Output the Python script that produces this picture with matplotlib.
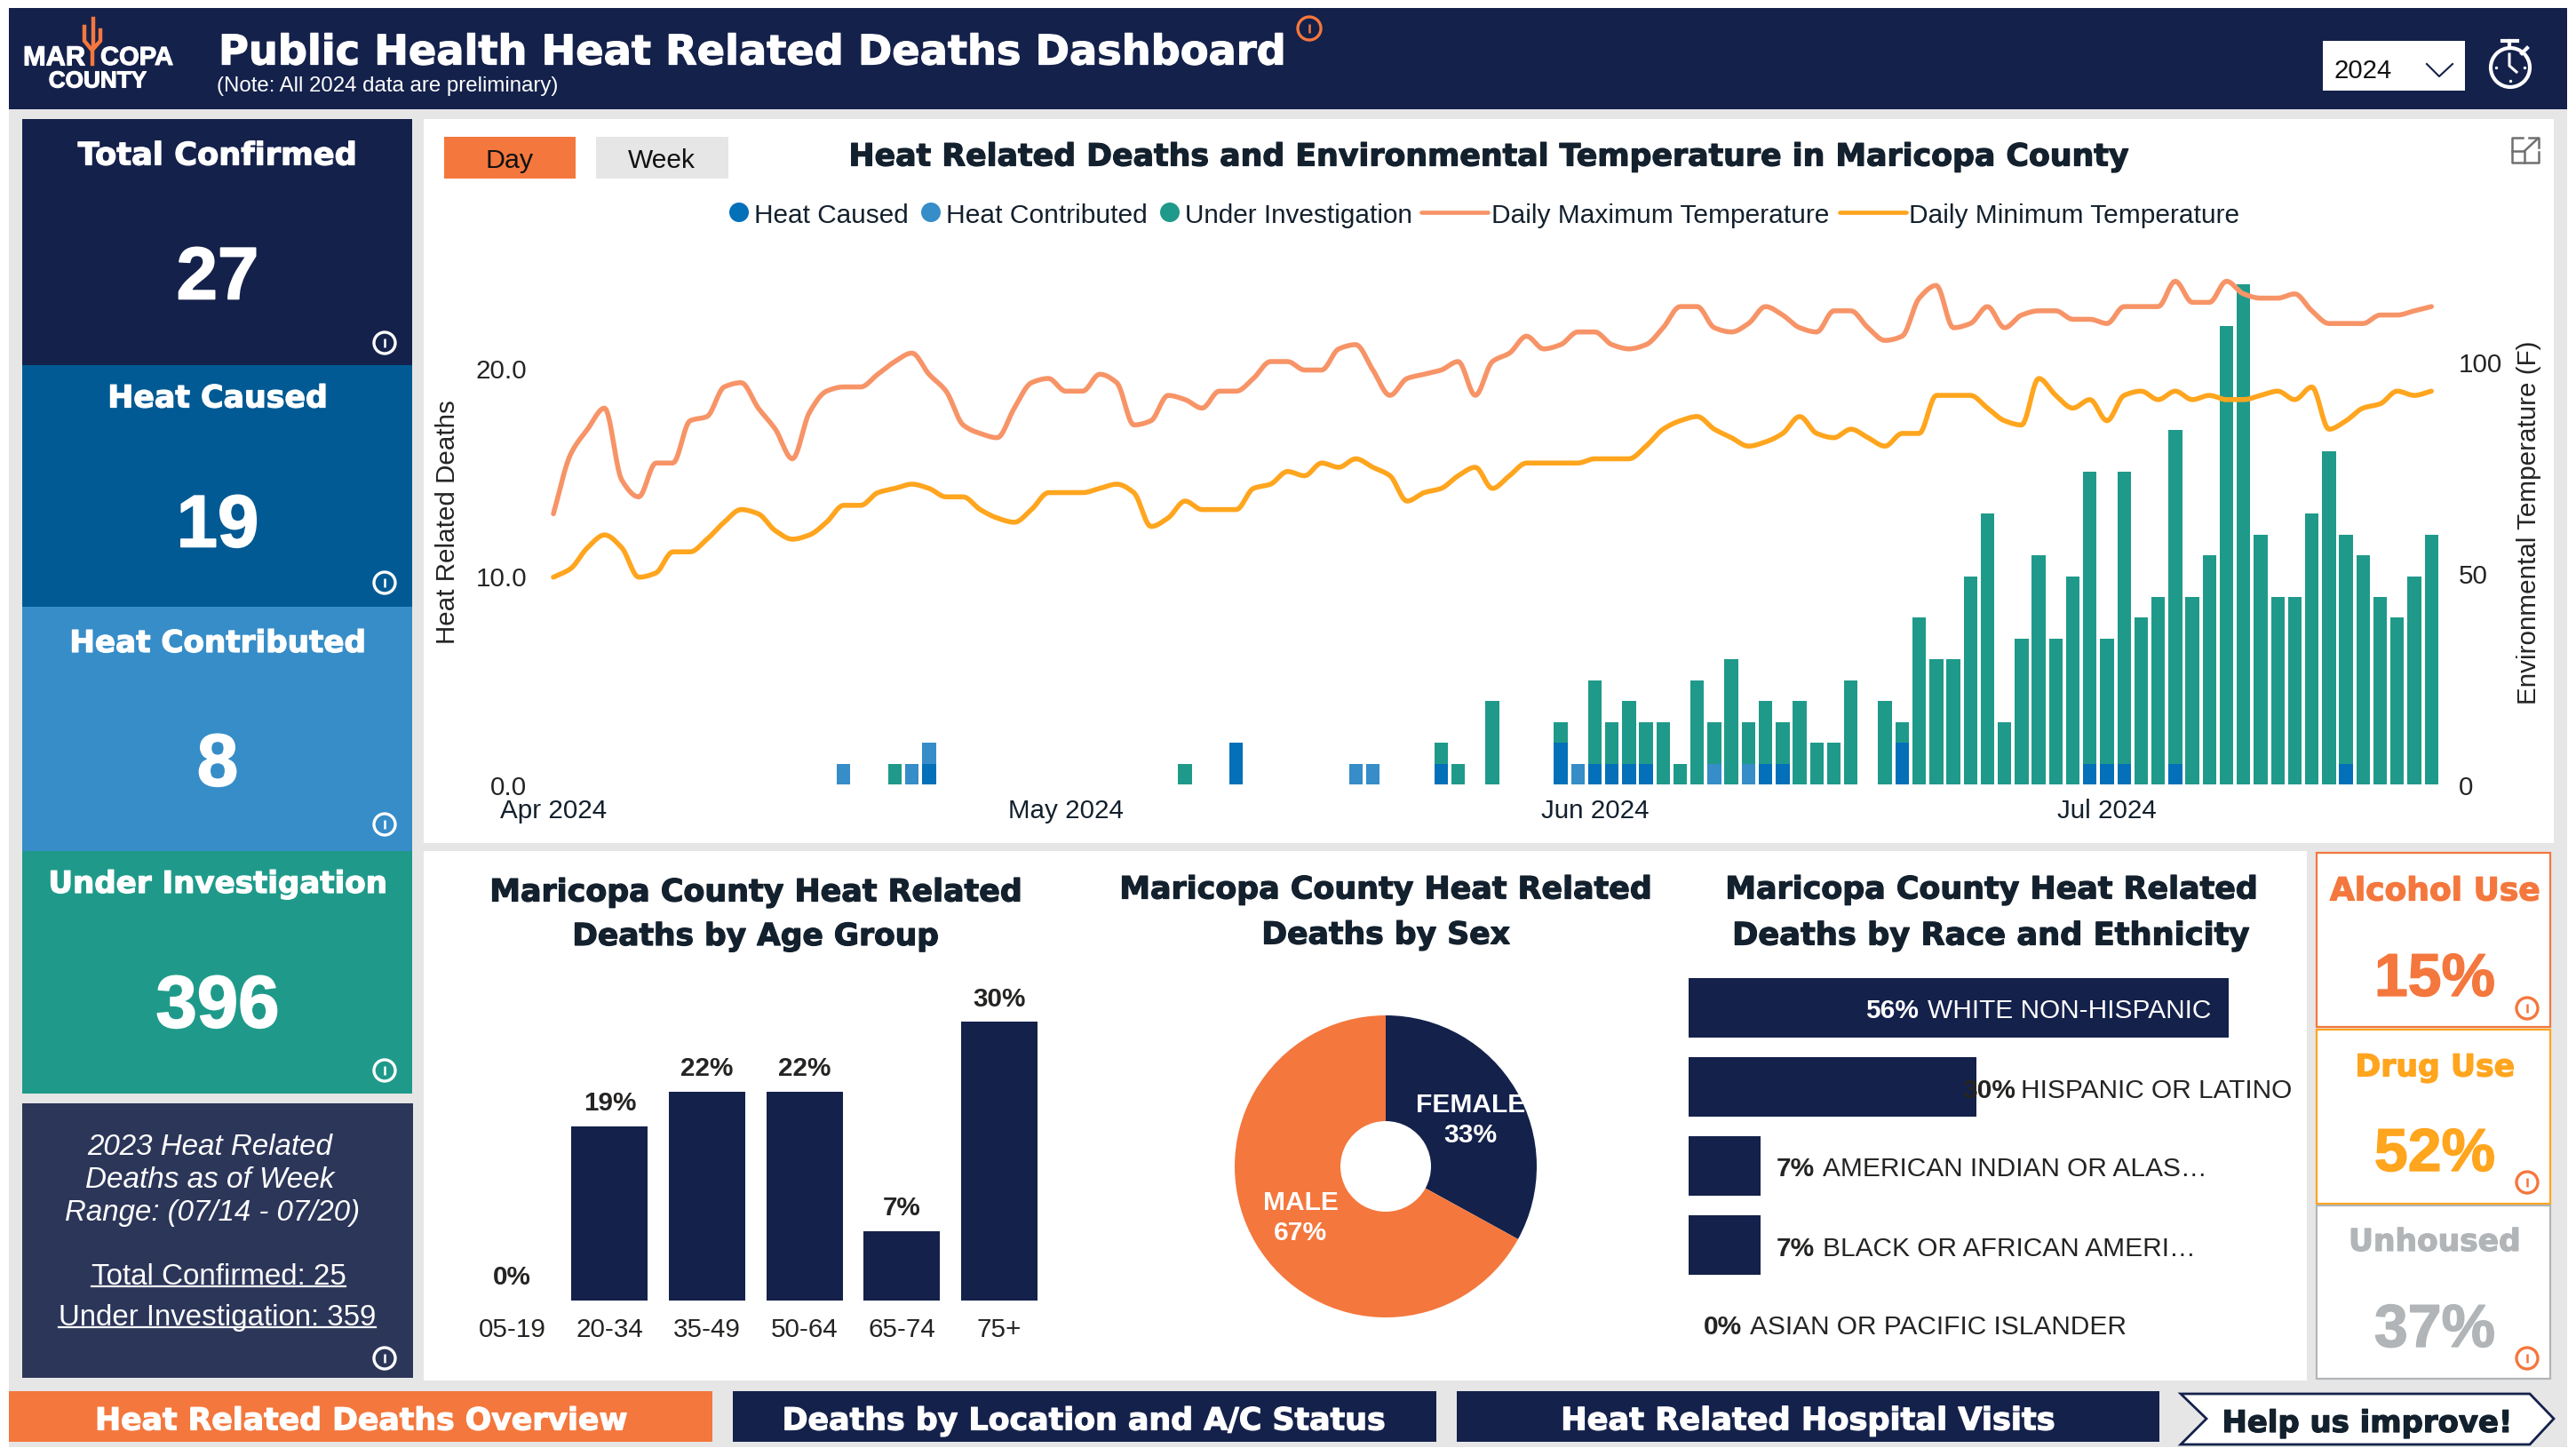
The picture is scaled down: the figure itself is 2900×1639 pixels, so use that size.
import numpy as np
import matplotlib
matplotlib.use('agg')
import matplotlib.pyplot as plt
import matplotlib.patheffects as pe
from matplotlib.patches import Rectangle, Circle, Polygon

# daily counts, Apr 1 - Jul 20 2024 (111 days)
heat_caused = [0,0,0,0,0,0,0,0,0,0,
               0,0,0,0,0,0,0,0,0,0,
               0,0,1,0,0,0,0,0,0,0,
               0,0,0,0,0,0,0,0,0,0,
               2,0,0,0,0,0,0,0,0,0,
               0,0,1,0,0,0,0,0,0,2,
               0,1,1,1,1,0,0,0,0,0,
               0,1,1,0,0,0,0,0,0,2,
               0,0,0,0,0,0,0,0,0,0,
               1,1,1,0,0,1,0,0,0,0,
               0,0,0,0,0,1,0,0,0,0,0]
heat_contributed = [0,0,0,0,0,0,0,0,0,0,
                    0,0,0,0,0,0,0,1,0,0,
                    0,1,1,0,0,0,0,0,0,0,
                    0,0,0,0,0,0,0,0,0,0,
                    0,0,0,0,0,0,0,1,1,0,
                    0,0,0,0,0,0,0,0,0,0,
                    1,0,0,0,0,0,0,0,1,0,
                    1,0,0,0,0,0,0,0,0,0,
                    0,0,0,0,0,0,0,0,0,0,
                    0,0,0,0,0,0,0,0,0,0,
                    0,0,0,0,0,0,0,0,0,0,0]
under_investigation = [0,0,0,0,0,0,0,0,0,0,
                       0,0,0,0,0,0,0,0,0,0,
                       1,0,0,0,0,0,0,0,0,0,
                       0,0,0,0,0,0,0,1,0,0,
                       0,0,0,0,0,0,0,0,0,0,
                       0,0,1,1,0,4,0,0,0,1,
                       0,4,2,3,2,3,1,5,2,6,
                       2,3,2,4,2,2,5,0,4,1,
                       8,6,6,10,13,3,7,11,7,10,
                       14,6,14,8,9,16,9,11,22,24,
                       12,9,9,13,16,11,11,9,8,10,12]
temp_max = [64,78,84,89,72,68,76,76,86,87,
            94,95,89,84,77,88,93,94,94,97,
            100,102,97,93,85,83,82,89,95,96,
            93,93,97,95,85,86,92,91,89,93,
            93,96,100,100,98,98,103,104,98,92,
            96,97,98,100,92,100,102,106,103,104,
            107,107,104,103,104,108,113,113,108,107,
            109,113,111,108,107,112,112,108,105,106,
            115,118,108,109,113,108,111,112,112,110,
            110,109,113,113,113,119,114,114,119,116,
            115,115,116,112,109,109,109,111,111,112,113]
temp_min = [49,51,56,59,56,49,50,55,55,58,
            62,65,64,60,58,59,62,66,66,69,
            70,71,70,68,68,65,63,62,65,69,
            69,69,70,71,69,61,63,67,65,65,
            65,70,71,74,73,76,75,77,75,73,
            67,69,70,73,75,70,73,76,76,76,
            76,77,77,77,80,84,86,87,84,82,
            80,81,83,87,83,82,84,82,80,83,
            83,92,92,92,89,86,85,96,92,89,
            91,86,92,93,91,93,91,92,91,91,
            92,93,91,94,84,86,89,90,93,92,93]
month_days = [0, 30, 61, 91]
month_labels = ['Apr 2024', 'May 2024', 'Jun 2024', 'Jul 2024']

age_groups = ['05-19', '20-34', '35-49', '50-64', '65-74', '75+']
age_counts = [0, 5, 6, 6, 2, 8]
age_pct = ['0%', '19%', '22%', '22%', '7%', '30%']

sex_labels = ['FEMALE', 'MALE']
sex_pct = [33, 67]

race_names = ['WHITE NON-HISPANIC', 'HISPANIC OR LATINO', 'AMERICAN INDIAN OR ALAS…',
              'BLACK OR AFRICAN AMERI…', 'ASIAN OR PACIFIC ISLANDER']
race_counts = [15, 8, 2, 2, 0]
race_pct = ['56%', '30%', '7%', '7%', '0%']

NAVY = '#14214B'
ORANGE = '#F4773D'
AMBER = '#FFA51E'
GREY = '#E6E6E6'
INK = '#252423'
TITLE = '#13202D'
C_CAUSED = '#0370B9'
C_CONTRIB = '#368DC8'
C_UI = '#1F9A8A'
C_MAX = '#F79467'
C_MIN = '#FFA51E'

W, H = 2900, 1640
plt.rcParams['font.family'] = ['Liberation Sans', 'DejaVu Sans']
fig = plt.figure(figsize=(W / 100, H / 100), dpi=100, facecolor='white')
bg = fig.add_axes([0, 0, 1, 1])
bg.set_xlim(0, W)
bg.set_ylim(H, 0)
bg.axis('off')
renderer = fig.canvas.get_renderer()


def box(x0, y0, x1, y1, color, edge=None, lw=0):
    bg.add_patch(Rectangle((x0, y0), x1 - x0, y1 - y0, facecolor=color, edgecolor=edge or 'none', linewidth=lw))


def put(x, y, s, width=None, size=21.3, color=INK, ha='center', weight='normal', style='normal', heavy=0):
    t = bg.text(x, y, s, fontsize=size, color=color, ha=ha, va='center_baseline', fontweight=weight, fontstyle=style)
    if width:
        t.set_fontsize(size * width / t.get_window_extent(renderer).width)
    if heavy:
        t.set_path_effects([pe.withStroke(linewidth=heavy, foreground=color)])
    return t


def head(x, y, s, width, color=TITLE, ha='center'):
    # wide heavy headings, DejaVu bold is the closest in proportions
    t = put(x, y, s, width=width, size=24, color=color, ha=ha, weight='bold')
    t.set_fontfamily('DejaVu Sans')
    t.set_fontsize(24)
    t.set_fontsize(24 * width / t.get_window_extent(renderer).width)
    t.set_path_effects([pe.withStroke(linewidth=0.9, foreground=color)])
    return t


def info(x, y, color='white', r=12):
    bg.add_patch(Circle((x, y), r, facecolor='none', edgecolor=color, linewidth=2.4))
    bg.plot([x, x], [y - 5, y + 5], color=color, lw=1.8, solid_capstyle='butt')


def to_ax(x0, y0, x1, y1):
    return fig.add_axes([x0 / W, 1 - y1 / H, (x1 - x0) / W, (y1 - y0) / H], facecolor='none')


def smooth(y, n=10):
    # monotone cubic through the daily readings, only for the curved look of the line
    y = np.asarray(y, float)
    d = np.diff(y)
    m = np.zeros(len(y))
    m[0], m[-1] = d[0], d[-1]
    for i in range(1, len(y) - 1):
        if d[i - 1] * d[i] > 0:
            m[i] = 2 * d[i - 1] * d[i] / (d[i - 1] + d[i])
    xs, ys = [], []
    t = np.linspace(0, 1, n, endpoint=False)
    for i in range(len(y) - 1):
        xs.extend(i + t)
        ys.extend((2*t**3 - 3*t**2 + 1) * y[i] + (t**3 - 2*t**2 + t) * m[i]
                  + (-2*t**3 + 3*t**2) * y[i + 1] + (t**3 - t**2) * m[i + 1])
    xs.append(len(y) - 1)
    ys.append(y[-1])
    return xs, ys


# page background and panels
box(10, 10, 2890, 1630, GREY)
box(10, 10, 2890, 124, NAVY)
box(477, 135, 2875, 950, 'white')
box(477, 959, 2597, 1555, 'white')

# header
head(246, 56, 'Public Health Heat Related Deaths Dashboard', 1203, color='white', ha='left')
put(244, 94, '(Note: All 2024 data are preliminary)', width=383, size=18, color='white', ha='left')
info(1474, 33, ORANGE, r=13)
put(26, 63, 'MAR', width=70, size=20, color='white', ha='left', weight='bold', heavy=0.8)
put(113, 63, 'COPA', width=82, size=20, color='white', ha='left', weight='bold', heavy=0.8)
put(110, 90, 'COUNTY', width=110, size=20, color='white', weight='bold', heavy=0.8)
bg.plot([104, 104, 95, 95], [73, 58, 47, 31], color=ORANGE, lw=3.2, solid_joinstyle='miter')
bg.plot([105, 105, 113, 113], [22, 56, 47, 35], color=ORANGE, lw=3.2, solid_joinstyle='miter')

box(2615, 47, 2775, 103, 'white')
put(2628, 77, '2024', width=65, size=22, color='#111111', ha='left')
bg.plot([2732, 2746, 2761], [73, 87, 73], color=NAVY, lw=1.5)
bg.add_patch(Circle((2826, 77), 22, facecolor='none', edgecolor='white', linewidth=3))
bg.plot([2817, 2834], [47, 47], color='white', lw=3)
bg.plot([2825, 2825], [47, 55], color='white', lw=3)
bg.plot([2839, 2845], [61, 55], color='white', lw=3)
bg.plot([2825, 2825, 2833], [62, 75, 82], color='white', lw=2.2)
bg.scatter([2810, 2842, 2826], [77, 77, 92], s=6, color='white', linewidths=0)

# KPI cards on the left
cards = [(135, 412, NAVY, 'Total Confirmed', 314, 173, '27', 307, 387),
         (412, 684, '#015A94', 'Heat Caused', 248, 446, '19', 586, 657),
         (684, 959, C_CONTRIB, 'Heat Contributed', 334, 722, '8', 855, 929),
         (959, 1232, C_UI, 'Under Investigation', 382, 993, '396', 1127, 1206)]
for y0, y1, col, name, w, ty, num, ny, iy in cards:
    box(25, y0, 464, y1, col)
    head(245, ty, name, w, color='white')
    put(245, ny, num, size=60, color='white', weight='bold', heavy=1.2)
    info(433, iy)

box(25, 1243, 465, 1552, '#2C3659')
put(236, 1288, '2023 Heat Related', width=276, size=22, color='white', style='italic')
put(236, 1325, 'Deaths as of Week', width=280, size=22, color='white', style='italic')
put(239, 1362, 'Range: (07/14 - 07/20)', width=332, size=22, color='white', style='italic')
put(246, 1434, 'Total Confirmed: 25', width=286, size=22, color='white')
bg.plot([103, 389], [1449, 1449], color='white', lw=1.6)
put(245, 1480, 'Under Investigation: 359', width=357, size=22, color='white')
bg.plot([66, 423], [1495, 1495], color='white', lw=1.6)
info(433, 1530)

# day / week toggle and chart title
box(500, 155, 648, 202, ORANGE)
box(671, 155, 820, 202, GREY)
put(574, 178, 'Day', width=54, color='#111111')
put(745, 178, 'Week', width=76, color='#111111')
head(1676, 174, 'Heat Related Deaths and Environmental Temperature in Maricopa County', 1442)

# expand icon
bg.plot([2840, 2828, 2828, 2858, 2858], [156, 156, 184, 184, 172], color='#707070', lw=1.8)
bg.plot([2828, 2842, 2842], [171, 171, 184], color='#707070', lw=1.8)
bg.plot([2842, 2857], [171, 157], color='#707070', lw=1.8)
bg.plot([2847, 2858, 2858], [156, 156, 167], color='#707070', lw=1.8)

# legend
for x, col, name, x_text, w in [(832, C_CAUSED, 'Heat Caused', 849, 174),
                                (1048, C_CONTRIB, 'Heat Contributed', 1065, 227),
                                (1317, C_UI, 'Under Investigation', 1334, 257)]:
    bg.add_patch(Circle((x, 240), 11, facecolor=col, edgecolor='none'))
    put(x_text, 240, name, width=w, color=TITLE, ha='left')
for x0, x1, col, name, x_text, w in [(1600, 1675, C_MAX, 'Daily Maximum Temperature', 1679, 380),
                                     (2071, 2146, C_MIN, 'Daily Minimum Temperature', 2149, 372)]:
    bg.plot([x0, x1], [240, 240], color=col, lw=3.4, solid_capstyle='round')
    put(x_text, 240, name, width=w, color=TITLE, ha='left')

# main combo chart
DAY_PX = 19.22
X0, X1 = 598, 2763
ax = to_ax(X0, 300, X1, 884)
days = np.arange(len(heat_caused))
caused = np.array(heat_caused)
contrib = np.array(heat_contributed)
ax.bar(days, caused, width=0.8, color=C_CAUSED)
ax.bar(days, contrib, width=0.8, bottom=caused, color=C_CONTRIB)
ax.bar(days, under_investigation, width=0.8, bottom=caused + contrib, color=C_UI)
ax.set_xlim((X0 - 623) / DAY_PX, (X1 - 623) / DAY_PX)
ax.set_ylim(0, 584 / 23.45)
ax.set_yticks([0, 10, 20], ['0.0', '10.0', '20.0'])
ax.set_xticks(month_days, month_labels)
ax.tick_params(length=0, labelsize=21.3, labelcolor=INK)
ax.tick_params(axis='x', pad=11, labelcolor=TITLE)
ax.set_ylabel('Heat Related Deaths', fontsize=21.3, color=INK)
ax.yaxis.set_label_coords(-0.037, 0.507)
for s in ax.spines.values():
    s.set_visible(False)

ax2 = ax.twinx()
ax2.plot(*smooth(temp_max), color=C_MAX, lw=4, solid_capstyle='round')
ax2.plot(*smooth(temp_min), color=C_MIN, lw=4, solid_capstyle='round')
ax2.set_ylim(0, 584 / 4.76)
ax2.set_yticks([0, 50, 100])
ax2.tick_params(length=0, labelsize=21.3, labelcolor=INK)
ax2.set_ylabel('Environmental Temperature (F)', fontsize=21.3, color=INK)
ax2.yaxis.set_label_coords(1.0323, 0.507)
for s in ax2.spines.values():
    s.set_visible(False)

# age group bars
head(851, 1002, 'Maricopa County Heat Related', 600)
head(851, 1052, 'Deaths by Age Group', 413)
ax_age = to_ax(522, 1100, 1223, 1465)
xpos = np.arange(len(age_groups))
ax_age.bar(xpos, age_counts, width=0.785, color=NAVY)
ax_age.set_xlim(-0.5, 5.895)
ax_age.set_ylim(0, 365 / 39.2)
ax_age.set_xticks(xpos, age_groups)
ax_age.set_yticks([])
ax_age.tick_params(length=0, labelsize=21.3, labelcolor=INK, pad=13)
for s in ax_age.spines.values():
    s.set_visible(False)
for i, v in enumerate(age_counts):
    ax_age.annotate(age_pct[i], (i, v), xytext=(0, 21.5), textcoords='offset points', ha='center',
                    va='center_baseline', fontsize=21.3, fontweight='bold', color=INK)

# sex donut
head(1560, 999, 'Maricopa County Heat Related', 600)
head(1560, 1050, 'Deaths by Sex', 280)
ax_sex = to_ax(1390, 1144, 1730, 1484)
ax_sex.pie(sex_pct, colors=[NAVY, ORANGE], startangle=90, counterclock=False, radius=1,
           wedgeprops={'width': 1 - 51 / 170})
ax_sex.set_xlim(-1, 1)
ax_sex.set_ylim(-1, 1)
for name, pct, tx, ty in [(sex_labels[0], sex_pct[0], 0.56, 0.43), (sex_labels[1], sex_pct[1], -0.565, -0.22)]:
    ax_sex.text(tx, ty, name, ha='center', va='center_baseline', fontsize=21.6, fontweight='bold', color='white')
    ax_sex.text(tx, ty - 0.2, '%d%%' % pct, ha='center', va='center_baseline', fontsize=21.6, fontweight='bold',
                color='white')

# race bars
head(2242, 999, 'Maricopa County Heat Related', 600)
head(2242, 1051, 'Deaths by Race and Ethnicity', 583)
ax_race = to_ax(1901, 1091, 2595, 1536)
ypos = np.arange(len(race_names))
ax_race.barh(ypos, race_counts, height=0.76, color=NAVY)
ax_race.set_xlim(0, 694 / 40.5)
ax_race.set_ylim(4.5, -0.5)
ax_race.axis('off')
pct_off = [-408, -16, 18, 18, 17]
name_off = [-338, 50, 70, 70, 69]
for i, v in enumerate(race_counts):
    col = 'white' if i == 0 else INK
    ax_race.annotate(race_pct[i], (v, i), xytext=(pct_off[i] * 0.72, 0), textcoords='offset points',
                     va='center_baseline', fontsize=21.5, fontweight='bold', color=col)
    ax_race.annotate(race_names[i], (v, i), xytext=(name_off[i] * 0.72, 0), textcoords='offset points',
                     va='center_baseline', fontsize=21.5, color=col)

# small cards on the right
small = [(961, 1157, ORANGE, 'Alcohol Use', 237, 1001, '15%', 1097, 1136),
         (1160, 1356, AMBER, 'Drug Use', 180, 1199, '52%', 1294, 1332),
         (1358, 1553, '#B1B5B8', 'Unhoused', 194, 1396, '37%', 1492, 1530)]
for y0, y1, col, name, w, ty, num, ny, iy in small:
    box(2608, y0, 2871, y1, 'white', edge=col, lw=1.6)
    head(2741, ty, name, w, color=col)
    put(2741, ny, num, width=136, size=48, color=col, weight='bold', heavy=1.0)
    info(2845, iy, ORANGE)

# navigation along the bottom
box(10, 1567, 802, 1624, ORANGE)
box(825, 1567, 1617, 1624, NAVY)
box(1640, 1567, 2431, 1624, NAVY)
head(406, 1597, 'Heat Related Deaths Overview', 600, color='white')
head(1220, 1597, 'Deaths by Location and A/C Status', 680, color='white')
head(2036, 1597, 'Heat Related Hospital Visits', 557, color='white')
bg.add_patch(Polygon([(2455, 1570), (2848, 1570), (2875, 1598), (2848, 1627), (2455, 1627), (2484, 1598)],
                     closed=True, facecolor='white', edgecolor=NAVY, linewidth=2))
head(2665, 1600, 'Help us improve!', 327)

fig.savefig('out.png', dpi=100)
